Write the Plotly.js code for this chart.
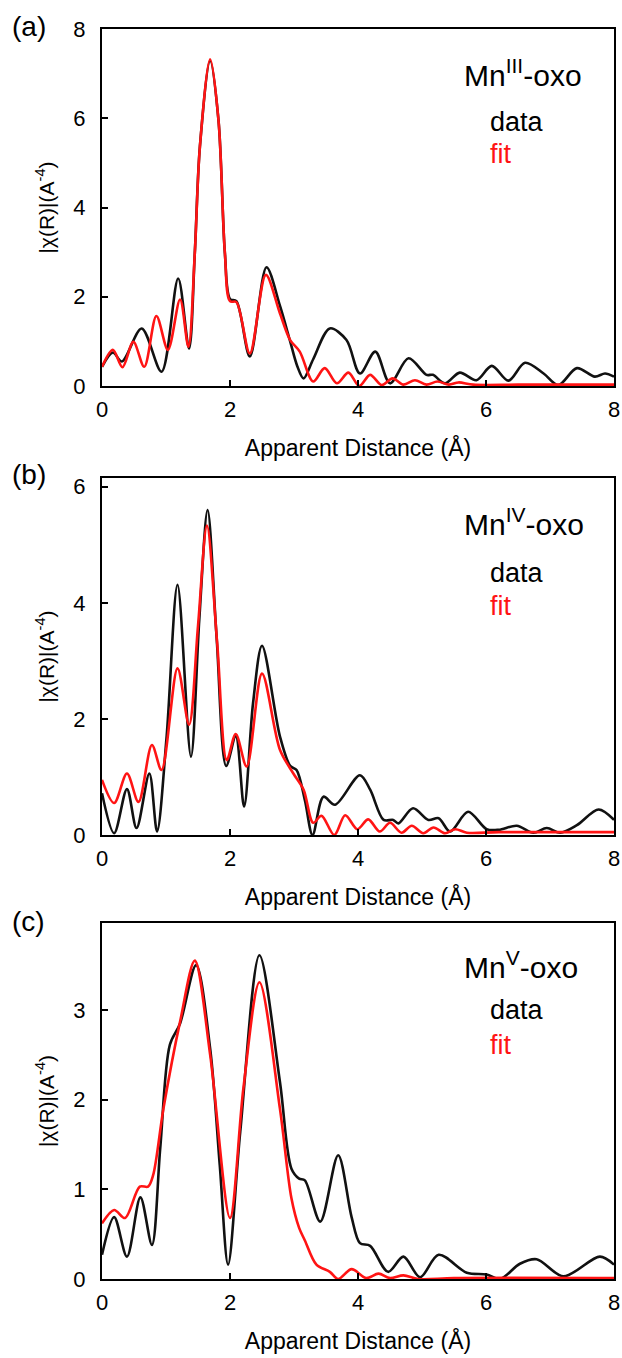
<!DOCTYPE html>
<html><head><meta charset="utf-8">
<script src="https://cdn.plot.ly/plotly-3.0.1.min.js"></script>
<style>html,body{margin:0;padding:0;background:#fff}</style>
</head><body><div id="chart" style="width:622px;height:1358px"></div>
<script>
// ---- data ----
const xTicks = [0, 2, 4, 6, 8];
const yTicksA = [0, 2, 4, 6, 8];
const yTicksB = [0, 2, 4, 6];
const yTicksC = [0, 1, 2, 3];

const aDataX = [0,0.17,0.31,0.62,0.93,1.19,1.36,1.45,1.53,1.69,1.82,1.92,2.0,2.1,2.31,2.57,2.78,2.94,3.05,3.15,3.3,3.56,3.82,4.03,4.27,4.5,4.79,5.07,5.17,5.36,5.59,5.85,6.09,6.35,6.61,6.9,7.13,7.42,7.7,7.86,8.0];
const aDataY = [0.43,0.75,0.55,1.29,0.32,2.41,0.84,2.98,5.37,7.29,5.96,2.98,1.95,1.9,0.66,2.66,1.8,1.0,0.45,0.17,0.6,1.29,1.03,0.28,0.77,0.06,0.62,0.25,0.25,0.06,0.30,0.13,0.45,0.12,0.52,0.28,0.02,0.40,0.21,0.28,0.21];
const aFitX = [0,0.17,0.32,0.49,0.66,0.85,1.03,1.22,1.35,1.45,1.53,1.69,1.82,1.92,2.0,2.1,2.31,2.56,2.78,2.94,3.09,3.3,3.48,3.67,3.85,4.02,4.19,4.37,4.54,4.71,4.89,5.07,5.24,5.42,5.57,5.8,6.5,8.0];
const aFitY = [0.43,0.81,0.42,0.99,0.43,1.57,0.81,1.94,0.88,2.98,5.37,7.32,5.96,2.98,1.9,1.88,0.73,2.49,1.63,1.03,0.77,0.10,0.40,0.06,0.30,0.0,0.25,0.02,0.17,0.03,0.13,0.03,0.10,0.03,0.08,0.03,0.03,0.03];

const bDataX = [0,0.19,0.39,0.54,0.74,0.86,1.01,1.18,1.39,1.52,1.65,1.79,1.94,2.09,2.22,2.36,2.5,2.78,2.94,3.04,3.17,3.29,3.46,3.64,4.03,4.19,4.4,4.55,4.63,4.86,5.1,5.26,5.44,5.72,6.01,6.2,6.48,6.74,6.95,7.16,7.42,7.76,8.0];
const bDataY = [0.72,0.03,0.79,0.12,1.06,0.06,1.70,4.31,1.35,3.71,5.60,3.42,1.19,1.70,0.49,2.27,3.26,1.70,1.19,1.12,0.6,0.0,0.66,0.52,1.03,0.78,0.26,0.26,0.2,0.46,0.26,0.29,0.06,0.40,0.10,0.09,0.16,0.04,0.12,0.04,0.17,0.44,0.26];
const bFitX = [0,0.19,0.39,0.57,0.78,0.93,1.18,1.36,1.5,1.64,1.8,1.95,2.09,2.26,2.5,2.78,2.99,3.15,3.3,3.43,3.63,3.8,3.99,4.16,4.34,4.5,4.68,4.84,5.02,5.18,5.36,5.52,5.7,6.2,8.0];
const bFitY = [0.95,0.55,1.06,0.57,1.55,1.12,2.87,1.90,3.6,5.33,3.3,1.29,1.74,1.18,2.78,1.47,1.06,0.78,0.21,0.33,0.0,0.34,0.10,0.27,0.06,0.21,0.04,0.16,0.03,0.13,0.03,0.10,0.04,0.05,0.05];

const cDataX = [0,0.19,0.39,0.6,0.78,0.91,1.06,1.22,1.47,1.69,1.84,1.97,2.16,2.46,2.78,2.96,3.08,3.17,3.41,3.69,3.9,4.03,4.19,4.47,4.71,4.97,5.26,5.7,6.01,6.22,6.53,6.79,7.21,7.78,8.0];
const cDataY = [0.27,0.69,0.25,0.91,0.38,1.46,2.61,2.85,3.50,2.57,1.27,0.16,1.64,3.61,2.20,1.23,1.12,1.10,0.64,1.38,0.69,0.40,0.37,0.08,0.25,0.02,0.27,0.07,0.05,0.0,0.17,0.22,0.03,0.25,0.16];
const cFitX = [0,0.19,0.36,0.59,0.72,0.8,0.96,1.22,1.45,1.69,2.0,2.21,2.46,2.78,2.96,3.08,3.17,3.35,3.56,3.69,3.9,4.13,4.32,4.5,4.71,4.94,5.5,8.0];
const cFitY = [0.62,0.77,0.68,1.03,1.03,1.16,1.90,2.87,3.55,2.50,0.68,2.13,3.31,1.90,0.90,0.57,0.43,0.16,0.08,0.0,0.11,0.01,0.06,0.01,0.04,0.0,0.01,0.01];

const panelLabels = ['(a)', '(b)', '(c)'];
const speciesLabels = ['Mn<sup>III</sup>-oxo', 'Mn<sup>IV</sup>-oxo', 'Mn<sup>V</sup>-oxo'];
const xTitle = 'Apparent Distance (Å)';
const yTitle = '|χ(R)|(A<sup>-4</sup>)';

// ---- chart ----
const FONT = 'Liberation Sans, Arial, Helvetica, sans-serif';
function line(x, y, color, xa, ya) {
  return {x: x, y: y, mode: 'lines', xaxis: xa, yaxis: ya, showlegend: false,
    line: {color: color, width: 2.6, shape: 'spline', smoothing: 0.9}, hoverinfo: 'skip'};
}
const traces = [
  line(aDataX, aDataY, '#111111', 'x', 'y'),
  line(aFitX, aFitY, '#ff1414', 'x', 'y'),
  line(bDataX, bDataY, '#111111', 'x2', 'y2'),
  line(bFitX, bFitY, '#ff1414', 'x2', 'y2'),
  line(cDataX, cDataY, '#111111', 'x3', 'y3'),
  line(cFitX, cFitY, '#ff1414', 'x3', 'y3')
];

function xax(anchor) {
  return {anchor: anchor, domain: [0, 1], range: [0, 8], tickvals: xTicks,
    ticks: 'inside', ticklen: 6, tickwidth: 2, tickcolor: '#000',
    showline: true, linewidth: 2, linecolor: '#000', mirror: true,
    showgrid: false, zeroline: false, ticklabelstandoff: 3,
    tickfont: {family: FONT, size: 22, color: '#000'},
    title: {text: xTitle, font: {family: FONT, size: 23, color: '#000'}, standoff: 18}};
}
function yax(anchor, dom, rng, tv) {
  return {anchor: anchor, domain: dom, range: rng, tickvals: tv,
    ticks: 'inside', ticklen: 6, tickwidth: 2, tickcolor: '#000',
    showline: true, linewidth: 2, linecolor: '#000', mirror: true,
    showgrid: false, zeroline: false, ticklabelstandoff: 10,
    tickfont: {family: FONT, size: 22, color: '#000'},
    title: {text: yTitle, font: {family: FONT, size: 21, color: '#000'}, standoff: 13}};
}

// positions in each panel's own domain fraction (x from plot left, y from plot bottom)
const axisIds = ['', '2', '3'];
const panelPos = [
  {panel: 1.006, sp: 0.877, data: 0.74, fit: 0.65},
  {panel: 1.011, sp: 0.877, data: 0.734, fit: 0.641},
  {panel: 1.004, sp: 0.882, data: 0.756, fit: 0.657}
];
function ann(text, id, x, y, size, color) {
  return {text: text, xref: 'x' + id + ' domain', yref: 'y' + id + ' domain', x: x, y: y,
    xanchor: 'left', yanchor: 'middle', showarrow: false,
    font: {family: FONT, size: size, color: color}};
}
const annotations = [];
panelPos.forEach(function (p, i) {
  const id = axisIds[i];
  annotations.push(ann(panelLabels[i], id, -0.18, p.panel, 28, '#000'));
  annotations.push(ann(speciesLabels[i], id, 0.703, p.sp, 30, '#000'));
  annotations.push(ann('data', id, 0.754, p.data, 27, '#000'));
  annotations.push(ann('fit', id, 0.754, p.fit, 27, '#ff1414'));
});

const layout = {
  width: 622, height: 1358,
  margin: {l: 102, r: 8, t: 29, b: 79},
  paper_bgcolor: '#fff', plot_bgcolor: '#fff',
  font: {family: FONT, color: '#000'},
  xaxis: xax('y'), yaxis: yax('x', [0.7144, 1], [0, 8], yTicksA),
  xaxis2: xax('y2'), yaxis2: yax('x2', [0.3552, 0.6408], [0, 6.15], yTicksB),
  xaxis3: xax('y3'), yaxis3: yax('x3', [0, 0.2848], [0, 3.97], yTicksC),
  annotations: annotations
};
Plotly.newPlot('chart', traces, layout, {displayModeBar: false});
</script></body></html>
